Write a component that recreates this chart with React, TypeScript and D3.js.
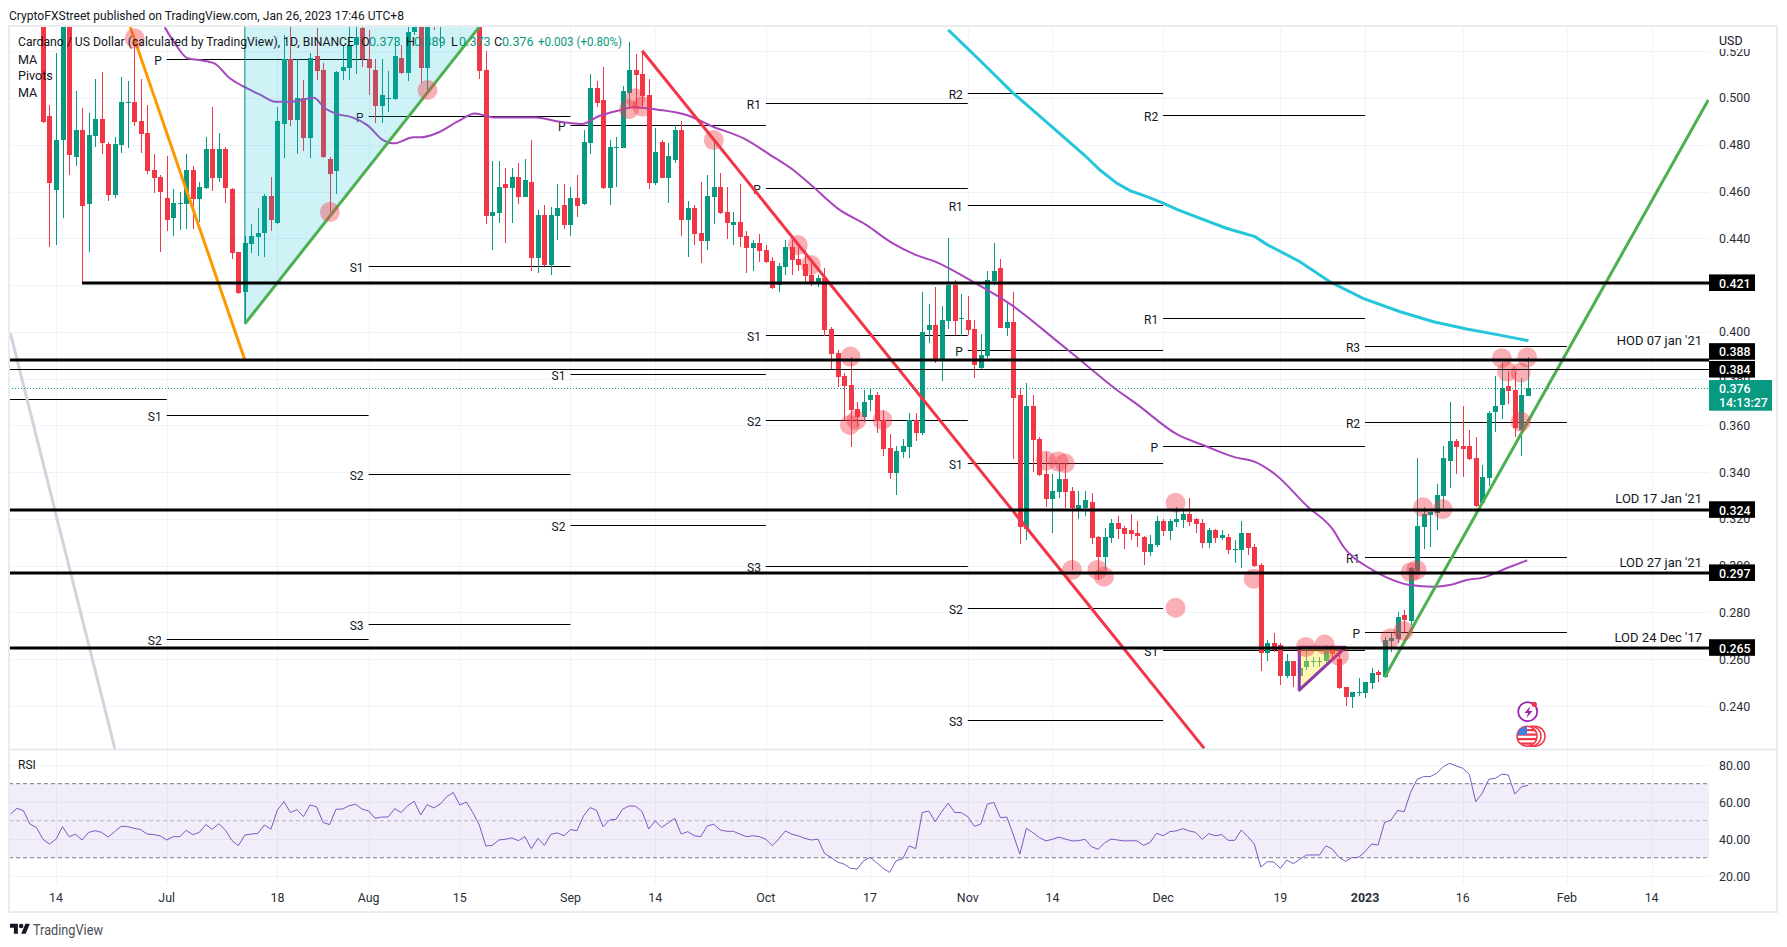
import React from "react";
import * as d3 from "d3";

const FONT = "Roboto, 'Liberation Sans', Arial, sans-serif";
const RED = "#f23645";
const GREEN = "#089981";
const INK = "#131722";
const GRID = "#f0f3fa";

const headerText = "CryptoFXStreet published on TradingView.com, Jan 26, 2023 17:46 UTC+8";
const legendTitle = "Cardano / US Dollar (calculated by TradingView), 1D, BINANCE";
const legendIndicators = ["MA", "Pivots", "MA"];

// Daily candles [open, high, low, close], from 12 Jun 2022 to 26 Jan 2023.
const candlesJun = [
  [.56,.57,.4894,.4899],[.4923,.4970,.4364,.4638],[.4607,.5191,.4371,.4820],[.4820,.55,.4485,.545],[.545,.55,.4671,.4756],
  [.4749,.5031,.4711,.4863],[.4863,.4956,.4215,.4540],[.4548,.4934,.4343,.4842],[.4839,.5081,.4792,.4910],[.4910,.5113,.4760,.4809],
  [.4803,.4810,.4559,.4585],[.4585,.4835,.4574,.4803],[.4800,.5090,.4763,.4984],[.4980,.5073,.4785,.4983],[.4983,.5248,.4880,.4899],
  [.4902,.5081,.4763,.4846],[.4849,.4970,.4675,.4689],[.4692,.4760,.4595,.4658],[.4662,.4671,.4343,.4599],
];
const candlesJul = [
  [.4571,.4752,.4433,.4480],[.4488,.4609,.4411,.4550],[.4548,.4599,.4435,.4551],[.4548,.4760,.4440,.4692],[.4692,.4711,.4440,.4568],
  [.4568,.4639,.4471,.4621],[.4614,.4835,.4611,.4782],[.4782,.4961,.4604,.4658],[.4658,.4849,.4642,.4782],[.4782,.4792,.4552,.4617],
  [.4611,.4617,.4313,.4337],[.4341,.4341,.4163,.4166],[.4169,.4410,.4043,.4380],[.4377,.4461,.4336,.4410],[.4407,.4528,.4324,.4421],
  [.4421,.4589,.4321,.4581],[.4581,.4664,.4433,.4480],[.4465,.4963,.4461,.4902],[.4889,.5269,.4742,.5165],[.5165,.5302,.4880,.4906],
  [.4906,.5165,.4760,.5001],[.5001,.5077,.4775,.4829],[.4829,.5191,.4742,.5172],[.5180,.5298,.5077,.5117],[.5120,.5148,.4742,.4748],
  [.4739,.4749,.4512,.4676],[.4688,.5117,.4589,.5113],[.5115,.5227,.5077,.5131],[.5127,.535,.5077,.5227],[.5228,.535,.5103,.5259],
  [.5298,.535,.5134,.5165],
];
const candlesAug = [
  [.5165,.5291,.5013,.5127],[.5120,.5165,.4894,.4966],[.4966,.5165,.4894,.5013],[.4997,.5117,.4941,.5000],[.4994,.5259,.4991,.5180],
  [.5170,.5227,.5103,.5105],[.5108,.535,.5074,.5281],[.5281,.545,.5270,.54],[.54,.55,.5063,.5128],[.5128,.55,.5034,.54],
  [.56,.565,.5291,.533],[.54,.57,.5212,.56],[.56,.59,.545,.58],[.58,.60,.55,.57],[.57,.59,.55,.565],
  [.565,.585,.555,.57],[.57,.575,.54,.56],[.56,.57,.5081,.5115],[.5120,.52,.4461,.4495],[.4495,.4732,.4350,.4512],
  [.4510,.4731,.4467,.4619],[.4632,.4699,.4381,.4615],[.4617,.4699,.4464,.4662],[.4662,.4721,.4547,.4577],[.4577,.4739,.4578,.4649],
  [.4641,.4820,.4262,.4317],[.4317,.4521,.4253,.4500],[.4500,.4542,.4282,.4286],[.4286,.4535,.4243,.4500],[.4495,.4632,.4393,.4530],
  [.4542,.4632,.4438,.4457],
];
const candlesSep = [
  [.4457,.4621,.4411,.4571],[.4571,.4671,.4492,.4540],[.4547,.4863,.4542,.4812],[.4809,.5103,.4760,.5043],[.5043,.5073,.4960,.4980],
  [.4991,.5131,.4611,.4615],[.4615,.4820,.4544,.4790],[.4788,.4835,.4621,.4790],[.4788,.5051,.4786,.5030],[.5020,.5239,.4963,.5120],
  [.5120,.5188,.4970,.5098],[.5103,.5198,.4963,.5010],[.5013,.5080,.4612,.4638],[.4638,.4870,.4628,.4770],[.4812,.4820,.4656,.4658],
  [.4659,.4806,.4552,.4752],[.4735,.4884,.4723,.4863],[.4863,.4900,.4411,.4478],[.4478,.4559,.4321,.4530],[.4530,.4542,.4371,.4420],
  [.4423,.4639,.4293,.4390],[.4390,.4671,.4350,.4581],[.4578,.4813,.4461,.4619],[.4619,.4678,.4504,.4510],[.4512,.4618,.4396,.4467],
  [.4458,.4512,.4371,.4470],[.4470,.4632,.4364,.4407],[.4410,.4431,.4253,.4360],[.4360,.4393,.4262,.4378],[.4380,.4418,.4300,.4347],
];
const candlesOct = [
  [.4350,.4371,.4296,.4300],[.4303,.4321,.4183,.4186],[.4199,.4293,.4172,.4282],[.4277,.4393,.4243,.4363],[.4363,.4393,.4243,.4307],
  [.4310,.4364,.4262,.4286],[.4289,.4350,.4214,.4239],[.4243,.4307,.4196,.4214],[.4214,.4243,.4193,.4229],[.4229,.4273,.3984,.4008],
  [.4012,.4022,.3840,.3907],[.3909,.3922,.3763,.3808],[.3811,.3822,.3623,.3768],[.3773,.3891,.3506,.3666],[.3670,.3699,.3595,.3637],
  [.3637,.3751,.3616,.3700],[.3709,.3758,.3662,.3730],[.3730,.3744,.3566,.3620],[.3623,.3666,.3469,.3499],[.3502,.3563,.3371,.3398],
  [.3398,.3512,.3304,.3490],[.3488,.3542,.3459,.3512],[.3509,.3652,.3462,.3623],[.3623,.3652,.3533,.3569],[.3569,.4172,.3560,.4001],
  [.4008,.4119,.3954,.4029],[.4029,.4193,.3865,.3882],[.3882,.4112,.3791,.4051],[.4046,.4400,.4012,.4200],[.4200,.4222,.3986,.4048],
  [.4056,.4162,.3982,.4059],
];
const candlesNov = [
  [.4051,.4155,.3985,.4008],[.4012,.4051,.3804,.3858],[.3845,.3991,.3842,.3900],[.3898,.4262,.3887,.4222],[.4219,.4381,.4200,.4259],
  [.4273,.4310,.4015,.4018],[.4018,.4133,.3984,.4042],[.4042,.4172,.3455,.3718],[.3730,.3758,.3093,.3167],[.3157,.3780,.3110,.3683],
  [.3683,.3730,.3402,.3538],[.3542,.3552,.3385,.3388],[.3391,.3488,.3252,.3287],[.3287,.3391,.3141,.3319],[.3315,.3438,.3291,.3371],
  [.3371,.3438,.3245,.3317],[.3319,.3338,.2982,.3247],[.3244,.3319,.3200,.3258],[.3245,.3319,.3214,.3281],[.3272,.3309,.3093,.3120],
  [.3123,.3128,.2939,.3039],[.3039,.3160,.2982,.3123],[.3118,.3198,.3096,.3181],[.3181,.3214,.3113,.3158],[.3161,.3171,.3071,.3137],
  [.3153,.3220,.3110,.3137],[.3140,.3191,.3082,.3128],[.3123,.3125,.3004,.3060],[.3060,.3131,.3043,.3093],[.3088,.3213,.3079,.3190],
];
const candlesDec = [
  [.3190,.3198,.3127,.3150],[.3150,.3198,.3110,.3191],[.3188,.3252,.3167,.3198],[.3197,.3238,.3163,.3221],[.3221,.3291,.3171,.3188],
  [.3198,.3203,.3141,.3180],[.3181,.3198,.3074,.3099],[.3099,.3160,.3074,.3153],[.3153,.3157,.3096,.3120],[.3120,.3153,.3110,.3131],
  [.3123,.3134,.3050,.3067],[.3068,.3110,.3013,.3071],[.3067,.3191,.2992,.3140],[.3140,.3141,.3046,.3074],[.3080,.3093,.2996,.3000],
  [.3003,.3010,.2551,.2628],[.2628,.2682,.2594,.2668],[.2668,.2711,.2632,.2640],[.2659,.2668,.2490,.2530],[.2530,.2622,.2521,.2592],
  [.2592,.2592,.2483,.2528],[.2528,.2640,.2525,.2563],[.2568,.2637,.2554,.2591],[.2590,.2611,.2568,.2593],[.2590,.2611,.2568,.2593],
  [.2591,.2661,.2583,.2640],[.2654,.2661,.2604,.2622],[.2600,.2628,.2471,.2479],[.2481,.2483,.2400,.2440],[.2440,.2461,.2393,.2460],
  [.2455,.2518,.2443,.2458],
];
const candlesJan = [
  [.2455,.2503,.2433,.2503],[.2500,.2561,.2474,.2540],[.2544,.2554,.2504,.2533],[.2525,.2696,.2518,.2682],[.2679,.2711,.2632,.2689],
  [.2685,.2801,.2668,.2779],[.2788,.2810,.2718,.2768],[.2765,.2996,.2746,.2989],[.2979,.3460,.2974,.3170],[.3165,.3250,.3071,.3220],
  [.3217,.3230,.3081,.3228],[.3227,.3349,.3153,.3302],[.3298,.3512,.3245,.3460],[.3449,.3701,.3334,.3532],[.3532,.3540,.3392,.3509],
  [.3510,.3683,.3381,.3500],[.3510,.3580,.3453,.3456],[.3460,.3552,.3252,.3257],[.3270,.3431,.3267,.3378],[.3377,.3661,.3342,.3651],
  [.3659,.3811,.3573,.3683],[.3687,.3870,.3626,.3758],[.3770,.3834,.3691,.3748],[.3751,.3830,.3552,.3590],[.3580,.3801,.3470,.3728],
  [.3727,.3891,.3725,.3759],
];
const candles = [...candlesJun, ...candlesJul, ...candlesAug, ...candlesSep, ...candlesOct, ...candlesNov, ...candlesDec, ...candlesJan];
const FIRST_CANDLE_DAY = -2; // days relative to 14 Jun 2022

// Moving averages: [days after 14 Jun 2022, price]
const ma50 = [
  [16.7,.5302],[18.4,.5227],[20.2,.5170],[22,.5162],[24.3,.5148],[26.7,.5084],[29,.5046],[31.4,.5013],[33.7,.4984],[36.1,.4984],
  [39.6,.5001],[41.3,.4956],[43.1,.4932],[45.5,.4917],[47.8,.4884],[50.2,.4820],[51.9,.4806],[54.9,.4832],[56,.4832],[58.4,.4849],
  [61.9,.4903],[64.3,.4934],[67.2,.4917],[73.7,.4917],[76.6,.4902],[80.7,.4889],[83.4,.4923],[86.8,.4949],[88.5,.4960],[92.7,.4949],
  [96.8,.4927],[100.9,.4877],[105.6,.4827],[109.7,.4756],[113.2,.4692],[116.2,.4621],[120,.4528],[124.4,.4457],[128.5,.4378],[132,.4329],
  [135,.4300],[140.3,.4222],[146.7,.4115],[153.8,.3958],[159.1,.3837],[162.6,.3758],[165.8,.3694],[172.3,.3559],[176.4,.3513],[181.1,.3463],
  [184,.3445],[187,.3395],[192.2,.3252],[196.1,.3153],[197.7,.3081],[201.7,.2989],[204.3,.2950],[207.9,.2917],[211.5,.2910],[214,.2917],
  [216.6,.2939],[219.1,.2949],[222.7,.2989],[225.9,.3023],
];
const ma200 = [
  [137,.5291],[142,.5157],[147,.5020],[153.2,.4870],[157.9,.4756],[160.3,.4692],[162.9,.4635],[164.9,.4604],[167.5,.4578],[170,.4550],
  [172.1,.4524],[175.6,.4486],[179.7,.4443],[184.1,.4407],[185.9,.4374],[191,.4300],[195.6,.4214],[200.7,.4143],[206.4,.4086],[211.5,.4043],
  [216.6,.4012],[221.7,.3986],[226.1,.3962],
];

// Hand-drawn objects: [days after 14 Jun 2022, price]
const orangeLine = [[11.4,.5304],[29,.3880]];
const greenLine1 = [[29,.4034],[65,.5304]];
const redLine = [[90,.5202],[176.3,.2219]];
const greenLine2 = [[204,.2523],[253.7,.4991]];
const grayLine = [[-7,.3994],[9.06,.2215]];
const tealTriangle = [[29,.4034],[29,.5315],[65,.5315]];
const purpleTriangle = [[190.9,.2468],[190.9,.2651],[198,.2651]];
const circles = [
  [12.08,.5255],[42.05,.4512],[57.04,.5034],[87.96,.4952],[88.96,.4999],[90.02,.4963],[101,.4820],[113.9,.4371],[115.9,.4286],[122,.3894],
  [121.9,.3602],[122.9,.3623],[126.9,.3623],[152,.3449],[153.9,.3445],[154.9,.3438],[171.9,.3269],[156,.2982],[159.9,.2982],[160.9,.2953],
  [171.9,.2820],[183.9,.2944],[191.9,.2652],[194.8,.2663],[197,.2614],[204.9,.2690],[206.9,.2721],[208,.2972],[208.9,.2982],[209.9,.3250],
  [212.9,.3242],[222,.3887],[222.8,.3830],[224.9,.3825],[225.9,.3891],[224.9,.3616],
];

// Horizontal levels
const thickLevels = [.421,.388,.324,.297,.265];
const thinLevels = [.384];
const levelNotes = [
  ["HOD 07 jan '21",.3965],["LOD 17 Jan '21",.3288],["LOD 27 jan '21",.3013],["LOD 24 Dec '17",.2695],
];
const levelBoxes = [[.421,"0.421"],[.3916,"0.388"],[.384,"0.384"],[.324,"0.324"],[.297,"0.297"],[.265,"0.265"]];

// Monthly pivots: [month start, label, price]
const pivotsJun = [["2022-06-01","",.3712]];
const pivotsJul = [["2022-07-01","P",.5165],["2022-07-01","S1",.3643],["2022-07-01","S2",.2685]];
const pivotsAug = [["2022-08-01","P",.4922],["2022-08-01","S1",.4280],["2022-08-01","S2",.3391],["2022-08-01","S3",.2749]];
const pivotsSep = [["2022-09-01","P",.4883],["2022-09-01","S1",.3818],["2022-09-01","S2",.3173]];
const pivotsOct = [["2022-10-01","R1",.4977],["2022-10-01","P",.4614],["2022-10-01","S1",.3986],["2022-10-01","S2",.3623],["2022-10-01","S3",.2997]];
const pivotsNov = [["2022-11-01","R2",.5020],["2022-11-01","R1",.4541],["2022-11-01","P",.3921],["2022-11-01","S1",.3438],["2022-11-01","S2",.2818],["2022-11-01","S3",.2340]];
const pivotsDec = [["2022-12-01","R2",.4929],["2022-12-01","R1",.4059],["2022-12-01","P",.3511],["2022-12-01","S1",.2638]];
const pivotsJan = [["2023-01-01","R3",.3939],["2023-01-01","R2",.3613],["2023-01-01","R1",.3036],["2023-01-01","P",.2715]];
const pivots = [...pivotsJun, ...pivotsJul, ...pivotsAug, ...pivotsSep, ...pivotsOct, ...pivotsNov, ...pivotsDec, ...pivotsJan];

const priceTicks = [.24,.26,.28,.30,.32,.34,.36,.38,.40,.42,.44,.46,.48,.50,.52];
const timeTicks = [
  ["2022-06-14","14"],["2022-07-01","Jul"],["2022-07-18","18"],["2022-08-01","Aug"],["2022-08-15","15"],["2022-09-01","Sep"],
  ["2022-09-14","14"],["2022-10-01","Oct"],["2022-10-17","17"],["2022-11-01","Nov"],["2022-11-14","14"],["2022-12-01","Dec"],
  ["2022-12-19","19"],["2023-01-01","2023"],["2023-01-16","16"],["2023-02-01","Feb"],["2023-02-14","14"],
];

// RSI, one value per day from 7 Jun 2022 to 26 Jan 2023
const rsiJun = [53.6,56.7,55.4,48.2,46.3,40,37.4,40,46.8,41.4,42.7,39.6,43.7,44.6,43.7,41.2,44.1,47,46.8,45.9,45.2,42.8,42.5,41.8];
const rsiJul = [39.6,41.4,41.4,44.8,42.5,43.7,47.9,45.4,48.4,45,39.4,36.5,42.3,42.8,43.2,47.7,45.4,55.8,60.3,54.4,56,52.2,58.5,57.6,49.1,47.9,56.2,56.3,58.1,58.9,56.3];
const rsiAug = [55.3,51.3,52,52,56.5,54.4,58.1,60.5,53.1,58.7,56.9,59,63,65.2,58.5,60.1,54.4,47.7,36.4,36.7,39.6,40,40.7,39.2,41.4,34.9,40.5,36.7,42.7,43.4,41.9];
const rsiSep = [45.2,44.6,52.6,57.1,55.6,46.8,50.4,50.8,56.2,58,57.8,54.9,45.5,49.9,46.4,48.8,51.3,42.8,44.1,41.9,41.4,47.2,48.1,45,44.3,44.3,42.8,41.4,41.9,41.4];
const rsiOct = [40,36.5,40.3,44.5,42.7,41.8,40.5,39.6,40,32.4,30.2,27.7,26.6,24.3,23.9,28.4,30.2,27.4,24.3,22.1,28.4,29.5,36.4,34.9,54.4,55.3,49.5,54.9,59.4,54.4,54.4];
const rsiNov = [52.2,47,48.2,58.9,59.9,51.7,52,42.3,32,45.9,43.6,40.9,39.1,40,41.2,40.1,39.1,39.2,40,36,34.6,38,40.1,39.6,39.1,39.2,39.1,36.7,38.3,43.2];
const rsiDec = [41.9,44.1,44.5,45.7,44.5,43.7,40,43,41.9,42.5,39.4,39.4,45,41.4,37.4,25,27.9,27.7,24.3,28.8,26.8,29.2,31.5,31.5,31.5,36.5,34.6,30.2,28.1,30.1,30.2];
const rsiJan = [33.3,37.4,36.9,49.1,50.4,55.6,54.9,65.3,72.4,73.8,73.8,75.6,79.2,81,79.6,78.3,75.1,60.3,64.8,72.4,72.9,75.1,74.7,64.4,68.2,69.1];
const rsi = [...rsiJun, ...rsiJul, ...rsiAug, ...rsiSep, ...rsiOct, ...rsiNov, ...rsiDec, ...rsiJan];
const FIRST_RSI_DAY = -7;
const rsiTicks = [20,40,60,80];
const rsiBands = [70,50,30];

const BASE = Date.UTC(2022, 5, 14);
const day = (n: number) => new Date(BASE + n * 864e5);
const parse = (s: string) => new Date(s + "T00:00:00Z");

const L = 9, PANE_R = 1709, FRAME_R = 1777, TOP = 26, PANE_B = 749, RSI_B = 884, BOTTOM = 912;
const x = d3.scaleUtc().domain([day(0), day(245)]).range([56, 1651.6]);
const y = d3.scaleLinear().domain([.24, .52]).range([706, 51.2]);
const yr = d3.scaleLinear().domain([20, 80]).range([876.3, 765.15]);

const pt = (p: number[]): [number, number] => [x(day(p[0])), y(p[1])];
const straight = d3.line<number[]>().x((p) => pt(p)[0]).y((p) => pt(p)[1]);
const smooth = d3.line<number[]>().x((p) => pt(p)[0]).y((p) => pt(p)[1]).curve(d3.curveMonotoneX);
const rsiPath = d3.line<number>().x((_, i) => x(day(FIRST_RSI_DAY + i))).y((v) => yr(v));
const fmt = d3.format(".3f");

const T = (p: any) => <text fontFamily={FONT} fontSize={12} fill={INK} dominantBaseline="central" {...p} />;

export default function App() {
  const monthEnd = (s: string) => {
    const d = parse(s);
    return new Date(Date.UTC(d.getUTCFullYear(), d.getUTCMonth() + 1, 1));
  };
  const lastY = y(0.376);
  return (
    <svg width={1787} height={947} viewBox="0 0 1787 947" style={{ position: "absolute", left: 0, top: 0, display: "block", background: "#fff" }}>
      <defs>
        <clipPath id="main"><rect x={L} y={TOP} width={PANE_R - L} height={PANE_B - TOP} /></clipPath>
        <clipPath id="flag"><circle cx={1527} cy={736.2} r={10} /></clipPath>
      </defs>

      {/* grid */}
      {timeTicks.map(([d]) => (
        <line key={d} x1={Math.round(x(parse(d))) + .5} x2={Math.round(x(parse(d))) + .5} y1={TOP} y2={RSI_B} stroke={GRID} />
      ))}
      {priceTicks.map((p) => (
        <line key={p} x1={L} x2={PANE_R} y1={Math.round(y(p)) + .5} y2={Math.round(y(p)) + .5} stroke={GRID} />
      ))}
      {rsiTicks.map((v) => (
        <line key={v} x1={L} x2={PANE_R} y1={Math.round(yr(v)) + .5} y2={Math.round(yr(v)) + .5} stroke={GRID} />
      ))}

      {/* RSI */}
      <rect x={L} y={yr(70)} width={PANE_R - L} height={yr(30) - yr(70)} fill="#7e57c2" fillOpacity={.1} />
      {rsiBands.map((v) => (
        <line key={v} x1={L} x2={PANE_R} y1={yr(v)} y2={yr(v)} stroke="#787b86" strokeOpacity={v === 50 ? .5 : 1} strokeDasharray="4 3" />
      ))}
      <path d={rsiPath(rsi) as string} fill="none" stroke="#7e57c2" strokeWidth={1} />
      <T x={18} y={765}>RSI</T>

      <g clipPath="url(#main)">
        {/* pivots */}
        {pivots.map(([m, label, p]: any) => {
          const x0 = x(parse(m));
          const x1 = x(monthEnd(m));
          const py = Math.round(y(p)) + .5;
          return (
            <g key={m + label}>
              <line x1={x0} x2={x1} y1={py} y2={py} stroke="#000" strokeWidth={1} />
              {label && <T x={x0 - 5} y={py + 1} textAnchor="end" fontSize={12}>{label}</T>}
            </g>
          );
        })}

        {/* candles */}
        {candles.map(([o, h, l, c], i) => {
          const cx = Math.round(x(day(FIRST_CANDLE_DAY + i)));
          const col = c >= o ? GREEN : RED;
          const top = y(Math.max(o, c));
          const bot = y(Math.min(o, c));
          return (
            <g key={i} fill={col} shapeRendering="crispEdges">
              <rect x={cx} y={y(h)} width={1} height={y(l) - y(h)} />
              <rect x={cx - 2} y={top} width={5} height={Math.max(bot - top, 1)} />
            </g>
          );
        })}

        {/* moving averages */}
        <path d={smooth(ma50) as string} fill="none" stroke="#a845bd" strokeWidth={2} />
        <path d={d3.line<number[]>().x((p) => pt(p)[0]).y((p) => pt(p)[1])(ma200) as string} fill="none" stroke="#26c6da" strokeWidth={3} />

        {/* drawings */}
        <polygon points={tealTriangle.map((p) => pt(p).join(",")).join(" ")} fill="#00bcd4" fillOpacity={.19} />
        <line x1={pt(tealTriangle[0])[0]} x2={pt(tealTriangle[0])[0]} y1={pt(tealTriangle[0])[1]} y2={TOP} stroke="#00897b" strokeWidth={1} />
        <path d={straight(grayLine) as string} stroke="#d1d4dc" strokeWidth={3} fill="none" />
        <path d={straight(orangeLine) as string} stroke="#ff9800" strokeWidth={3} fill="none" />
        <path d={straight(greenLine1) as string} stroke="#4caf50" strokeWidth={3} fill="none" />
        <path d={straight(redLine) as string} stroke={RED} strokeWidth={3} fill="none" />
        <path d={straight(greenLine2) as string} stroke="#4caf50" strokeWidth={3} fill="none" />
        <polygon points={purpleTriangle.map((p) => pt(p).join(",")).join(" ")} fill="#ffeb3b" fillOpacity={.38} stroke="#8e3aa8" strokeWidth={3} strokeLinejoin="round" />
        {circles.map(([d, p], i) => (
          <circle key={i} cx={pt([d, p])[0]} cy={pt([d, p])[1]} r={10} fill={RED} fillOpacity={.4} />
        ))}

        {/* horizontal levels */}
        {thickLevels.map((p) => (
          <line key={p} x1={p === .421 ? x(day(4)) : L} x2={PANE_R} y1={Math.round(y(p))} y2={Math.round(y(p))} stroke="#000" strokeWidth={3} />
        ))}
        {thinLevels.map((p) => (
          <line key={p} x1={L} x2={PANE_R} y1={Math.round(y(p)) + .5} y2={Math.round(y(p)) + .5} stroke="#000" strokeWidth={1} />
        ))}
        <line x1={L} x2={PANE_R} y1={Math.round(lastY) + .5} y2={Math.round(lastY) + .5} stroke={GREEN} strokeWidth={1} strokeDasharray="1 2" />

        {levelNotes.map(([s, p]: any) => (
          <T key={s} x={1702} y={y(p)} textAnchor="end" fontSize={13} fontWeight={400}>{s}</T>
        ))}

        {/* event icons */}
        <circle cx={1527.7} cy={711.7} r={9.5} fill="#fff" stroke="#9c27b0" strokeWidth={1.8} />
        <path d="M1530.5 706l-6 7h3.6l-1.6 5 6-7h-3.6z" fill="#9c27b0" />
        <circle cx={1534.3} cy={704.3} r={2.6} fill={RED} />
        {[1535, 1531].map((cx) => (
          <circle key={cx} cx={cx} cy={736.2} r={10} fill="#fff" stroke={RED} strokeWidth={1.5} />
        ))}
        <circle cx={1527} cy={736.2} r={10} fill="#fff" stroke={RED} strokeWidth={1.5} />
        <g clipPath="url(#flag)">
          {[729, 733.5, 738, 742.5].map((yy) => <rect key={yy} x={1516} y={yy} width={22} height={2.2} fill={RED} />)}
          <rect x={1516} y={726} width={11} height={9} fill="#3d7fe0" />
        </g>
      </g>

      {/* panel borders */}
      <rect x={L} y={TOP} width={FRAME_R - L} height={BOTTOM - TOP} fill="none" stroke="#ebecf2" strokeWidth={2} />
      <line x1={L} x2={FRAME_R} y1={PANE_B + .5} y2={PANE_B + .5} stroke="#e0e3eb" strokeWidth={1.5} />

      {/* legend */}
      <T x={9} y={15} fontSize={12.6} textLength={395} lengthAdjust="spacingAndGlyphs">{headerText}</T>
      <T x={18} y={41.7} fontSize={12.6} textLength={336} lengthAdjust="spacingAndGlyphs">{legendTitle}</T>
      {[["O","0.373",361],["H","0.389",406],["L","0.373",451],["C","0.376",494]].map(([k, v, px]: any) => (
        <g key={k + px}>
          <T x={px} y={41.7} fontSize={12.6}>{k}</T>
          <T x={px + 8} y={41.7} fontSize={12.6} fill={GREEN}>{v}</T>
        </g>
      ))}
      <T x={538} y={41.7} fontSize={12.6} fill={GREEN} textLength={84} lengthAdjust="spacingAndGlyphs">+0.003 (+0.80%)</T>
      {legendIndicators.map((s, i) => (
        <T key={i} x={18} y={59 + i * 16.8} fontSize={12.6}>{s}</T>
      ))}

      {/* price axis */}
      {priceTicks.map((p) => (
        <T key={p} x={1719} y={y(p)} fontSize={12.4} fill="#2a2e39">{fmt(p)}</T>
      ))}
      <rect x={1710} y={28} width={62} height={21} fill="#fff" />
      <T x={1719} y={40.7} fontSize={12.4}>USD</T>
      {levelBoxes.map(([p, s]: any) => (
        <g key={s}>
          <rect x={1709} y={y(p) - 8.3} width={46} height={16.6} fill="#000" />
          <T x={1719} y={y(p) + .5} fontSize={12.4} fill="#fff" fontWeight={500}>{s}</T>
        </g>
      ))}
      <rect x={1709} y={380} width={63} height={30.7} fill={GREEN} />
      <T x={1719} y={388.6} fontSize={12.4} fill="#fff" fontWeight={500}>0.376</T>
      <T x={1719} y={402.8} fontSize={12.4} fill="#fff" fontWeight={500}>14:13:27</T>

      {/* RSI axis */}
      {rsiTicks.map((v) => (
        <T key={v} x={1719} y={yr(v)} fontSize={12.4} fill="#2a2e39">{d3.format(".2f")(v)}</T>
      ))}

      {/* time axis */}
      {timeTicks.map(([d, s]) => (
        <T key={d} x={x(parse(d))} y={897.7} textAnchor="middle" fontSize={12.4} fill="#2a2e39" fontWeight={s === "2023" ? 700 : 400}>{s}</T>
      ))}

      {/* logo */}
      <g transform="translate(10 921.5) scale(.56)" fill={INK}>
        <path d="M14 22H7V11H0V4h14v18zM28 22h-8l7.5-18h8L28 22z" />
        <circle cx={20} cy={8} r={4} />
      </g>
      <T x={33} y={930} fontSize={14} fill="#4a4e59" textLength={70} lengthAdjust="spacingAndGlyphs">TradingView</T>
    </svg>
  );
}
